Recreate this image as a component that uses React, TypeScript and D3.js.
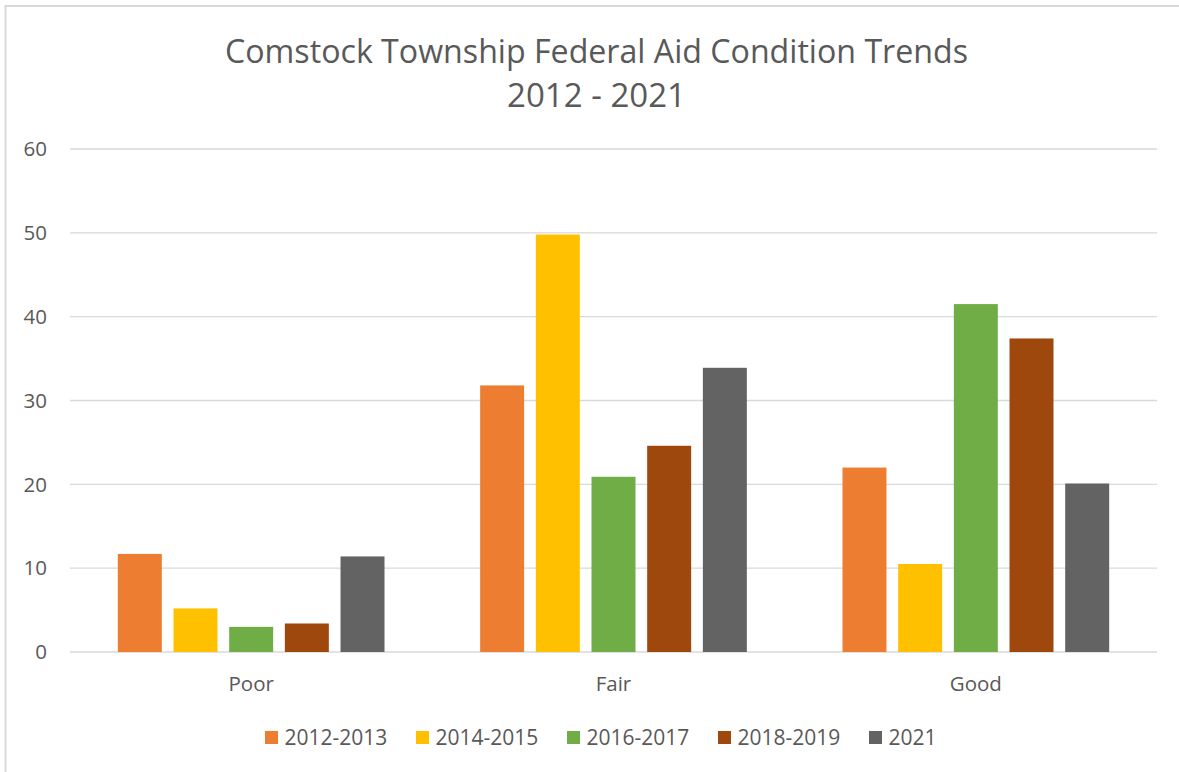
import React from "react";
import * as d3 from "d3";

const categories = ["Poor", "Fair", "Good"];
const seriesNames = ["2012-2013", "2014-2015", "2016-2017", "2018-2019", "2021"];
const seriesColors = ["#ED7D31", "#FFC000", "#70AD47", "#9E480E", "#636363"];
const values2012_2013 = [11.7, 31.8, 22.0];
const values2014_2015 = [5.2, 49.8, 10.5];
const values2016_2017 = [3.0, 20.9, 41.5];
const values2018_2019 = [3.4, 24.6, 37.4];
const values2021 = [11.4, 33.9, 20.1];
const seriesValues = [values2012_2013, values2014_2015, values2016_2017, values2018_2019, values2021];
const yTicks = [0, 10, 20, 30, 40, 50, 60];
const titleLines = ["Comstock Township Federal Aid Condition Trends", "2012 - 2021"];

const W = 1179;
const H = 772;
const FONT = "'Open Sans', 'Liberation Sans', sans-serif";
const TEXT = "#595959";

export default function App() {
  const plotLeft = 70;
  const plotRight = 1157;
  const plotTop = 149;
  const plotBottom = 652;

  const y = d3.scaleLinear().domain([0, 60]).range([plotBottom, plotTop]);
  const x0 = d3.scaleBand<string>().domain(categories).range([plotLeft, plotRight]).padding(0);
  const bw = x0.bandwidth();
  const outer = bw * 0.132;
  const x1 = d3
    .scaleBand<string>()
    .domain(seriesNames)
    .range([outer, bw - outer])
    .paddingInner(0.21)
    .paddingOuter(0);

  const legendStep = 151;
  const legendStart = 265;
  const legendY = 731;

  return (
    <svg
      width={W}
      height={H}
      style={{ position: "absolute", left: 0, top: 0, background: "#fff" }}
      fontFamily={FONT}
    >
      <rect x={0} y={0} width={W} height={H} fill="#fff" />
      {/* chart border */}
      <line x1={5.5} y1={6} x2={W} y2={6} stroke="#D9D9D9" strokeWidth={2} />
      <line x1={5.5} y1={5} x2={5.5} y2={H} stroke="#D9D9D9" strokeWidth={2} />

      {/* title */}
      <text
        x={596.5}
        y={62.7}
        textAnchor="middle"
        fontSize={33.5}
        fill={TEXT}
        textLength={743}
        lengthAdjust="spacingAndGlyphs"
      >
        {titleLines[0]}
      </text>
      <text
        x={596.5}
        y={107.3}
        textAnchor="middle"
        fontSize={33.5}
        fill={TEXT}
        textLength={179}
        lengthAdjust="spacingAndGlyphs"
      >
        {titleLines[1]}
      </text>

      {/* gridlines and y labels */}
      {yTicks.map((t) => (
        <g key={t}>
          <line
            x1={plotLeft}
            x2={plotRight}
            y1={y(t)}
            y2={y(t)}
            stroke="#D9D9D9"
            strokeWidth={1.4}
          />
          <text
            x={47}
            y={y(t)}
            dy="0.35em"
            textAnchor="end"
            fontSize={20.5}
            fill={TEXT}
          >
            {t}
          </text>
        </g>
      ))}

      {/* bars */}
      {categories.map((c, ci) => (
        <g key={c} transform={`translate(${x0(c)},0)`}>
          {seriesNames.map((s, si) => {
            const v = seriesValues[si][ci];
            return (
              <rect
                key={s}
                x={x1(s)}
                y={y(v)}
                width={x1.bandwidth()}
                height={y(0) - y(v)}
                fill={seriesColors[si]}
              />
            );
          })}
          <text
            x={bw / 2}
            y={690.5}
            textAnchor="middle"
            fontSize={20.5}
            fill={TEXT}
          >
            {c}
          </text>
        </g>
      ))}

      {/* legend */}
      {seriesNames.map((s, si) => (
        <g key={s} transform={`translate(${legendStart + si * legendStep},${legendY})`}>
          <rect x={0} y={0} width={13} height={13} fill={seriesColors[si]} />
          <text x={19.5} y={6.5} dy="0.36em" fontSize={21} fill={TEXT}>
            {s}
          </text>
        </g>
      ))}
    </svg>
  );
}
